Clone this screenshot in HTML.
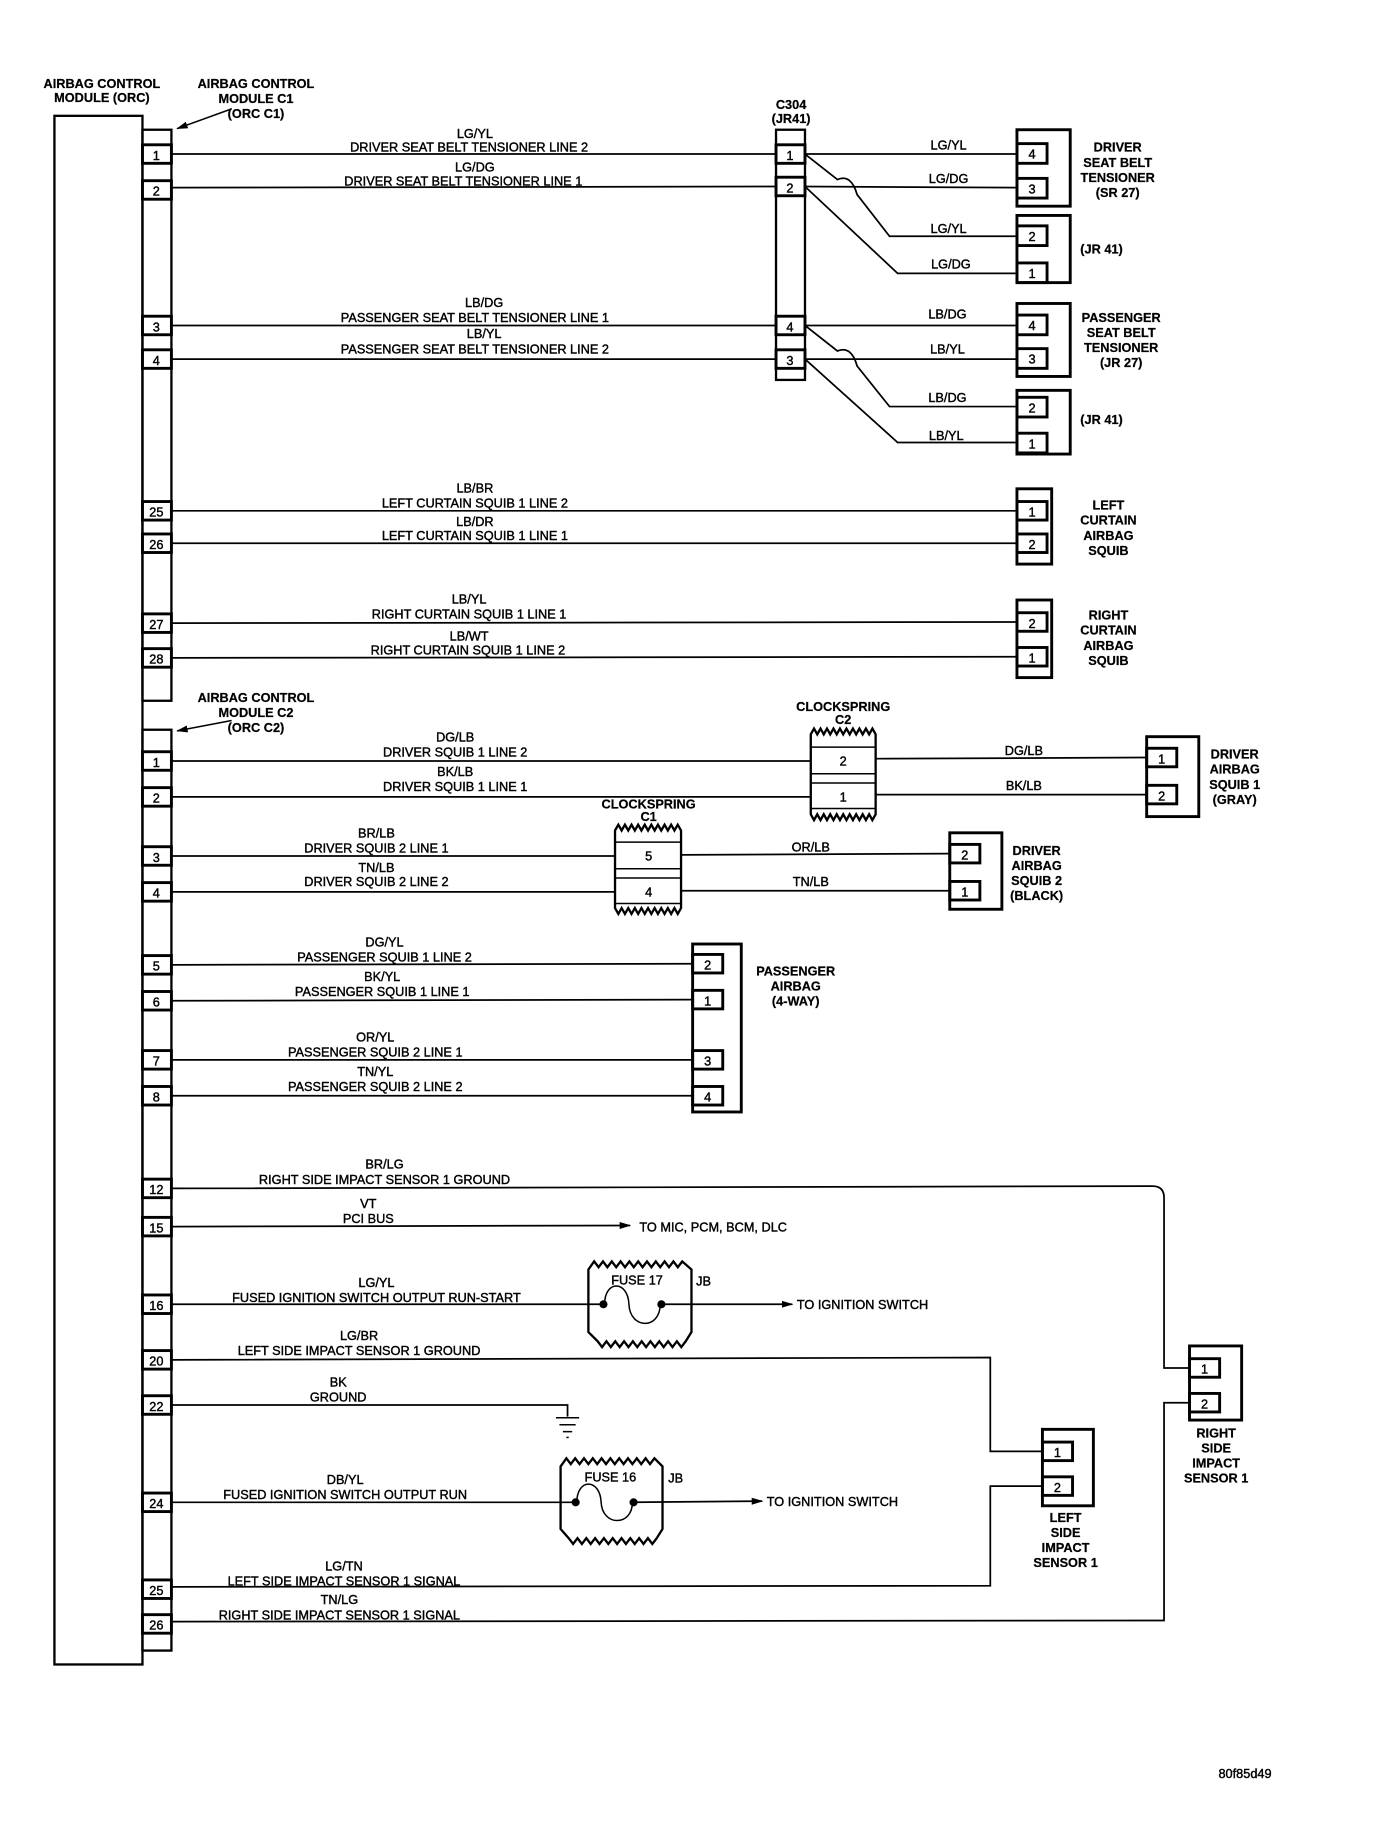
<!DOCTYPE html>
<html><head><meta charset="utf-8"><style>
html,body{margin:0;padding:0;background:#fff}
svg{display:block}
text{font-family:"Liberation Sans",Arial,sans-serif;font-size:11px;fill:#000;stroke:#000;stroke-width:0.35}
.b{font-weight:bold;stroke-width:0.2}
.n{font-size:12px}
</style></head><body>
<svg width="1376" height="1822" viewBox="0 0 1188 1573" preserveAspectRatio="none" xmlns="http://www.w3.org/2000/svg">
<defs><marker id="ar" markerWidth="10" markerHeight="8" refX="9" refY="4" orient="auto" markerUnits="userSpaceOnUse"><path d="M0,1 L10,4 L0,7 Z" fill="#000"/></marker></defs>
<g fill="none" stroke="#000">
<rect x="47" y="100" width="76" height="1337" stroke-width="2"/>
<rect x="123" y="112" width="25" height="493" stroke-width="2"/>
<rect x="123" y="630" width="25" height="795" stroke-width="2"/>
<line x1="200" y1="94" x2="153" y2="111" stroke-width="1.3" marker-end="url(#ar)"/>
<line x1="200" y1="622" x2="153" y2="631" stroke-width="1.3" marker-end="url(#ar)"/>
<g stroke-width="2.5">
<rect x="123" y="125" width="25" height="16"/><rect x="123" y="156" width="25" height="16"/>
<rect x="123" y="273" width="25" height="16"/><rect x="123" y="302" width="25" height="16"/>
<rect x="123" y="433" width="25" height="16"/><rect x="123" y="461" width="25" height="16"/>
<rect x="123" y="530" width="25" height="16"/><rect x="123" y="560" width="25" height="16"/>
<rect x="123" y="649" width="25" height="16"/><rect x="123" y="680" width="25" height="16"/>
<rect x="123" y="731" width="25" height="16"/><rect x="123" y="762" width="25" height="16"/>
<rect x="123" y="825" width="25" height="16"/><rect x="123" y="856" width="25" height="16"/>
<rect x="123" y="907" width="25" height="16"/><rect x="123" y="938" width="25" height="16"/>
<rect x="123" y="1018" width="25" height="16"/><rect x="123" y="1051" width="25" height="16"/>
<rect x="123" y="1118" width="25" height="16"/><rect x="123" y="1166" width="25" height="16"/>
<rect x="123" y="1205" width="25" height="16"/><rect x="123" y="1289" width="25" height="16"/>
<rect x="123" y="1364" width="25" height="16"/><rect x="123" y="1394" width="25" height="16"/>
</g>
<rect x="670" y="112" width="25" height="216" stroke-width="2"/>
<g stroke-width="2.5">
<rect x="670" y="125" width="25" height="16"/><rect x="670" y="153" width="25" height="16"/>
<rect x="670" y="273" width="25" height="16"/><rect x="670" y="302" width="25" height="16"/>
</g>
<g stroke-width="1.5">
<line x1="148" y1="133" x2="670" y2="133"/><line x1="148" y1="162" x2="670" y2="161"/>
<line x1="148" y1="281" x2="670" y2="281"/><line x1="148" y1="310" x2="670" y2="310"/>
<line x1="695" y1="133" x2="878" y2="133"/><line x1="695" y1="161" x2="878" y2="162"/>
<path d="M695,133 L723,155 Q735,150 740,168 L768,204 L878,204"/>
<path d="M695,161 L775,236 L878,236"/>
<line x1="695" y1="281" x2="878" y2="281"/><line x1="695" y1="310" x2="878" y2="310"/>
<path d="M695,281 L723,303 Q735,298 740,316 L768,351 L878,351"/>
<path d="M695,310 L775,382 L878,382"/>
<line x1="148" y1="441" x2="878" y2="441"/><line x1="148" y1="469" x2="878" y2="469"/>
<line x1="148" y1="538" x2="878" y2="537"/><line x1="148" y1="568" x2="878" y2="567"/>
</g>
<g stroke-width="2.5">
<rect x="878" y="112" width="46" height="66"/><rect x="878" y="124" width="26" height="17"/><rect x="878" y="154" width="26" height="17"/>
<rect x="878" y="186" width="46" height="58"/><rect x="878" y="195" width="26" height="17"/><rect x="878" y="227" width="26" height="17"/>
<rect x="878" y="262" width="46" height="63"/><rect x="878" y="272" width="26" height="17"/><rect x="878" y="301" width="26" height="17"/>
<rect x="878" y="337" width="46" height="55"/><rect x="878" y="343" width="26" height="17"/><rect x="878" y="374" width="26" height="17"/>
<rect x="878" y="422" width="30" height="65"/><rect x="878" y="433" width="26" height="16"/><rect x="878" y="461" width="26" height="16"/>
<rect x="878" y="518" width="30" height="67"/><rect x="878" y="529" width="26" height="16"/><rect x="878" y="559" width="26" height="16"/>
</g>
<g stroke-width="1.5">
<line x1="148" y1="657" x2="700" y2="657"/><line x1="148" y1="688" x2="700" y2="688"/>
<line x1="756" y1="655" x2="990" y2="654"/><line x1="756" y1="686" x2="990" y2="686"/>
<line x1="148" y1="739" x2="531" y2="739"/><line x1="148" y1="770" x2="531" y2="770"/>
<line x1="588" y1="738" x2="820" y2="737"/><line x1="588" y1="769" x2="820" y2="769"/>
<line x1="148" y1="833" x2="598" y2="832"/><line x1="148" y1="864" x2="598" y2="863"/>
<line x1="148" y1="915" x2="598" y2="915"/><line x1="148" y1="946" x2="598" y2="946"/>
<path d="M148,1026 L995,1024 Q1005,1024 1005,1034 L1005,1181 L1027,1181"/>
<line x1="148" y1="1059" x2="544" y2="1058" marker-end="url(#ar)"/>
<line x1="148" y1="1126" x2="520" y2="1126"/>
<line x1="572" y1="1126" x2="684" y2="1126" marker-end="url(#ar)"/>
<path d="M148,1174 L855,1172 L855,1253 L900,1253"/>
<path d="M148,1213 L490,1213 L490,1223"/>
<line x1="148" y1="1297" x2="497" y2="1297"/>
<line x1="547" y1="1297" x2="658" y2="1296" marker-end="url(#ar)"/>
<path d="M148,1370 L855,1369 L855,1283 L900,1283"/>
<path d="M148,1400 L1005,1399 L1005,1211 L1027,1211"/>
</g>
<g stroke-width="1.3"><line x1="480" y1="1224" x2="500" y2="1224"/><line x1="483" y1="1230" x2="497" y2="1230"/><line x1="486" y1="1236" x2="494" y2="1236"/><line x1="489" y1="1241" x2="491" y2="1241"/></g>
<path stroke-width="2" d="M700,634 l2.8,-5 2.8,5 2.8,-5 2.8,5 2.8,-5 2.8,5 2.8,-5 2.8,5 2.8,-5 2.8,5 2.8,-5 2.8,5 2.8,-5 2.8,5 2.8,-5 2.8,5 2.8,-5 2.8,5 2.8,-5 2.8,5 L756,703 l-2.8,5 -2.8,-5 -2.8,5 -2.8,-5 -2.8,5 -2.8,-5 -2.8,5 -2.8,-5 -2.8,5 -2.8,-5 -2.8,5 -2.8,-5 -2.8,5 -2.8,-5 -2.8,5 -2.8,-5 -2.8,5 -2.8,-5 -2.8,5 -2.8,-5 Z"/>
<g stroke-width="1.3"><line x1="700" y1="645" x2="756" y2="645"/><line x1="700" y1="668" x2="756" y2="668"/><line x1="700" y1="676" x2="756" y2="676"/><line x1="700" y1="698" x2="756" y2="698"/></g>
<path stroke-width="2" d="M531,717 l2.85,-5 2.85,5 2.85,-5 2.85,5 2.85,-5 2.85,5 2.85,-5 2.85,5 2.85,-5 2.85,5 2.85,-5 2.85,5 2.85,-5 2.85,5 2.85,-5 2.85,5 2.85,-5 2.85,5 2.85,-5 2.85,5 L588,784 l-2.85,5 -2.85,-5 -2.85,5 -2.85,-5 -2.85,5 -2.85,-5 -2.85,5 -2.85,-5 -2.85,5 -2.85,-5 -2.85,5 -2.85,-5 -2.85,5 -2.85,-5 -2.85,5 -2.85,-5 -2.85,5 -2.85,-5 -2.85,5 -2.85,-5 Z"/>
<g stroke-width="1.3"><line x1="531" y1="727" x2="588" y2="727"/><line x1="531" y1="750" x2="588" y2="750"/><line x1="531" y1="758" x2="588" y2="758"/><line x1="531" y1="780" x2="588" y2="780"/></g>
<g stroke-width="2.5">
<rect x="990" y="636" width="45" height="69"/><rect x="990" y="646" width="26" height="16"/><rect x="990" y="678" width="26" height="16"/>
<rect x="820" y="719" width="45" height="66"/><rect x="820" y="729" width="26" height="16"/><rect x="820" y="761" width="26" height="16"/>
<rect x="598" y="815" width="42" height="145"/><rect x="598" y="824" width="26" height="16"/><rect x="598" y="855" width="26" height="16"/><rect x="598" y="907" width="26" height="16"/><rect x="598" y="938" width="26" height="16"/>
<rect x="1027" y="1162" width="45" height="64"/><rect x="1027" y="1173" width="26" height="16"/><rect x="1027" y="1203" width="26" height="16"/>
<rect x="900" y="1234" width="44" height="66"/><rect x="900" y="1245" width="26" height="16"/><rect x="900" y="1275" width="26" height="16"/>
</g>
<path stroke-width="2" d="M508,1096 L513,1089 l3.8,5 3.8,-5 3.8,5 3.8,-5 3.8,5 3.8,-5 3.8,5 3.8,-5 3.8,5 3.8,-5 3.8,5 3.8,-5 3.8,5 3.8,-5 3.8,5 3.8,-5 3.8,5 3.8,-5 3.8,5 3.8,-5 L597,1096 L597,1150 L592,1158 l-3.8,5 -3.8,-5 -3.8,5 -3.8,-5 -3.8,5 -3.8,-5 -3.8,5 -3.8,-5 -3.8,5 -3.8,-5 -3.8,5 -3.8,-5 -3.8,5 -3.8,-5 -3.8,5 -3.8,-5 -3.8,5 -3.8,-5 -3.8,5 -3.8,-5 L508,1150 Z"/>
<path stroke-width="1.3" d="M522,1126 C522,1105 542,1105 543,1126 C544,1148 570,1148 570,1126"/>
<path stroke-width="2" d="M484,1266 L489,1259 l3.8,5 3.8,-5 3.8,5 3.8,-5 3.8,5 3.8,-5 3.8,5 3.8,-5 3.8,5 3.8,-5 3.8,5 3.8,-5 3.8,5 3.8,-5 3.8,5 3.8,-5 3.8,5 3.8,-5 3.8,5 3.8,-5 L572,1266 L572,1320 L567,1328 l-3.8,5 -3.8,-5 -3.8,5 -3.8,-5 -3.8,5 -3.8,-5 -3.8,5 -3.8,-5 -3.8,5 -3.8,-5 -3.8,5 -3.8,-5 -3.8,5 -3.8,-5 -3.8,5 -3.8,-5 -3.8,5 -3.8,-5 -3.8,5 -3.8,-5 L484,1320 Z"/>
<path stroke-width="1.3" d="M498,1297 C498,1276 518,1276 519,1297 C520,1318 546,1318 546,1297"/>
</g>
<g fill="#000"><circle cx="521" cy="1126" r="3.5"/><circle cx="571" cy="1126" r="3.5"/><circle cx="497" cy="1297" r="3.5"/><circle cx="547" cy="1297" r="3.5"/></g>

<g class="b" text-anchor="middle">
<text x="88" y="76" class="b">AIRBAG CONTROL</text><text x="88" y="88" class="b">MODULE (ORC)</text>
<text x="221" y="76" class="b">AIRBAG CONTROL</text><text x="221" y="89" class="b">MODULE C1</text><text x="221" y="102" class="b">(ORC C1)</text>
<text x="221" y="606" class="b">AIRBAG CONTROL</text><text x="221" y="619" class="b">MODULE C2</text><text x="221" y="632" class="b">(ORC C2)</text>
<text x="683" y="94" class="b">C304</text><text x="683" y="106" class="b">(JR41)</text>
<text x="965" y="131" class="b">DRIVER</text><text x="965" y="144" class="b">SEAT BELT</text><text x="965" y="157" class="b">TENSIONER</text><text x="965" y="170" class="b">(SR 27)</text>
<text x="951" y="219" class="b">(JR 41)</text>
<text x="968" y="278" class="b">PASSENGER</text><text x="968" y="291" class="b">SEAT BELT</text><text x="968" y="304" class="b">TENSIONER</text><text x="968" y="317" class="b">(JR 27)</text>
<text x="951" y="366" class="b">(JR 41)</text>
<text x="957" y="440" class="b">LEFT</text><text x="957" y="453" class="b">CURTAIN</text><text x="957" y="466" class="b">AIRBAG</text><text x="957" y="479" class="b">SQUIB</text>
<text x="957" y="535" class="b">RIGHT</text><text x="957" y="548" class="b">CURTAIN</text><text x="957" y="561" class="b">AIRBAG</text><text x="957" y="574" class="b">SQUIB</text>
<text x="728" y="614" class="b">CLOCKSPRING</text><text x="728" y="625" class="b">C2</text>
<text x="560" y="698" class="b">CLOCKSPRING</text><text x="560" y="709" class="b">C1</text>
<text x="1066" y="655" class="b">DRIVER</text><text x="1066" y="668" class="b">AIRBAG</text><text x="1066" y="681" class="b">SQUIB 1</text><text x="1066" y="694" class="b">(GRAY)</text>
<text x="895" y="738" class="b">DRIVER</text><text x="895" y="751" class="b">AIRBAG</text><text x="895" y="764" class="b">SQUIB 2</text><text x="895" y="777" class="b">(BLACK)</text>
<text x="687" y="842" class="b">PASSENGER</text><text x="687" y="855" class="b">AIRBAG</text><text x="687" y="868" class="b">(4-WAY)</text>
<text x="1050" y="1241" class="b">RIGHT</text><text x="1050" y="1254" class="b">SIDE</text><text x="1050" y="1267" class="b">IMPACT</text><text x="1050" y="1280" class="b">SENSOR 1</text>
<text x="920" y="1314" class="b">LEFT</text><text x="920" y="1327" class="b">SIDE</text><text x="920" y="1340" class="b">IMPACT</text><text x="920" y="1353" class="b">SENSOR 1</text>
</g>
<g text-anchor="middle" class="n">
<text x="135" y="138">1</text><text x="135" y="169">2</text><text x="135" y="286">3</text><text x="135" y="315">4</text>
<text x="135" y="446">25</text><text x="135" y="474">26</text><text x="135" y="543">27</text><text x="135" y="573">28</text>
<text x="135" y="662">1</text><text x="135" y="693">2</text><text x="135" y="744">3</text><text x="135" y="775">4</text>
<text x="135" y="838">5</text><text x="135" y="869">6</text><text x="135" y="920">7</text><text x="135" y="951">8</text>
<text x="135" y="1031">12</text><text x="135" y="1064">15</text><text x="135" y="1131">16</text><text x="135" y="1179">20</text>
<text x="135" y="1218">22</text><text x="135" y="1302">24</text><text x="135" y="1377">25</text><text x="135" y="1407">26</text>
<text x="682" y="138">1</text><text x="682" y="166">2</text><text x="682" y="286">4</text><text x="682" y="315">3</text>
<text x="891" y="137">4</text><text x="891" y="167">3</text><text x="891" y="208">2</text><text x="891" y="240">1</text>
<text x="891" y="285">4</text><text x="891" y="314">3</text><text x="891" y="356">2</text><text x="891" y="387">1</text>
<text x="891" y="446">1</text><text x="891" y="474">2</text><text x="891" y="542">2</text><text x="891" y="572">1</text>
<text x="728" y="661">2</text><text x="728" y="692">1</text><text x="560" y="743">5</text><text x="560" y="774">4</text>
<text x="1003" y="659">1</text><text x="1003" y="691">2</text><text x="833" y="742">2</text><text x="833" y="774">1</text>
<text x="611" y="837">2</text><text x="611" y="868">1</text><text x="611" y="920">3</text><text x="611" y="951">4</text>
<text x="1040" y="1186">1</text><text x="1040" y="1216">2</text><text x="913" y="1258">1</text><text x="913" y="1288">2</text>
</g>
<g text-anchor="middle">
<text x="410" y="119">LG/YL</text><text x="405" y="131">DRIVER SEAT BELT TENSIONER LINE 2</text>
<text x="410" y="148">LG/DG</text><text x="400" y="160">DRIVER SEAT BELT TENSIONER LINE 1</text>
<text x="418" y="265">LB/DG</text><text x="410" y="278">PASSENGER SEAT BELT TENSIONER LINE 1</text>
<text x="418" y="292">LB/YL</text><text x="410" y="305">PASSENGER SEAT BELT TENSIONER LINE 2</text>
<text x="819" y="129">LG/YL</text><text x="819" y="158">LG/DG</text><text x="819" y="201">LG/YL</text><text x="821" y="232">LG/DG</text>
<text x="818" y="275">LB/DG</text><text x="818" y="305">LB/YL</text><text x="818" y="347">LB/DG</text><text x="817" y="380">LB/YL</text>
<text x="410" y="425">LB/BR</text><text x="410" y="438">LEFT CURTAIN SQUIB 1 LINE 2</text>
<text x="410" y="454">LB/DR</text><text x="410" y="466">LEFT CURTAIN SQUIB 1 LINE 1</text>
<text x="405" y="521">LB/YL</text><text x="405" y="534">RIGHT CURTAIN SQUIB 1 LINE 1</text>
<text x="405" y="553">LB/WT</text><text x="404" y="565">RIGHT CURTAIN SQUIB 1 LINE 2</text>
<text x="393" y="640">DG/LB</text><text x="393" y="653">DRIVER SQUIB 1 LINE 2</text>
<text x="393" y="670">BK/LB</text><text x="393" y="683">DRIVER SQUIB 1 LINE 1</text>
<text x="884" y="652">DG/LB</text><text x="884" y="682">BK/LB</text>
<text x="325" y="723">BR/LB</text><text x="325" y="736">DRIVER SQUIB 2 LINE 1</text>
<text x="325" y="753">TN/LB</text><text x="325" y="765">DRIVER SQUIB 2 LINE 2</text>
<text x="700" y="735">OR/LB</text><text x="700" y="765">TN/LB</text>
<text x="332" y="817">DG/YL</text><text x="332" y="830">PASSENGER SQUIB 1 LINE 2</text>
<text x="330" y="847">BK/YL</text><text x="330" y="860">PASSENGER SQUIB 1 LINE 1</text>
<text x="324" y="899">OR/YL</text><text x="324" y="912">PASSENGER SQUIB 2 LINE 1</text>
<text x="324" y="929">TN/YL</text><text x="324" y="942">PASSENGER SQUIB 2 LINE 2</text>
<text x="332" y="1009">BR/LG</text><text x="332" y="1022">RIGHT SIDE IMPACT SENSOR 1 GROUND</text>
<text x="318" y="1043">VT</text><text x="318" y="1056">PCI BUS</text>
<text x="325" y="1111">LG/YL</text><text x="325" y="1124">FUSED IGNITION SWITCH OUTPUT RUN-START</text>
<text x="310" y="1157">LG/BR</text><text x="310" y="1170">LEFT SIDE IMPACT SENSOR 1 GROUND</text>
<text x="292" y="1197">BK</text><text x="292" y="1210">GROUND</text>
<text x="298" y="1281">DB/YL</text><text x="298" y="1294">FUSED IGNITION SWITCH OUTPUT RUN</text>
<text x="297" y="1356">LG/TN</text><text x="297" y="1369">LEFT SIDE IMPACT SENSOR 1 SIGNAL</text>
<text x="293" y="1385">TN/LG</text><text x="293" y="1398">RIGHT SIDE IMPACT SENSOR 1 SIGNAL</text>
<text x="550" y="1109">FUSE 17</text><text x="527" y="1279">FUSE 16</text>
</g>
<text x="601" y="1110">JB</text><text x="577" y="1280">JB</text>
<text x="552" y="1063">TO MIC, PCM, BCM, DLC</text>
<text x="688" y="1130">TO IGNITION SWITCH</text>
<text x="662" y="1300">TO IGNITION SWITCH</text>
<text x="1052" y="1535">80f85d49</text>
</svg>
</body></html>
